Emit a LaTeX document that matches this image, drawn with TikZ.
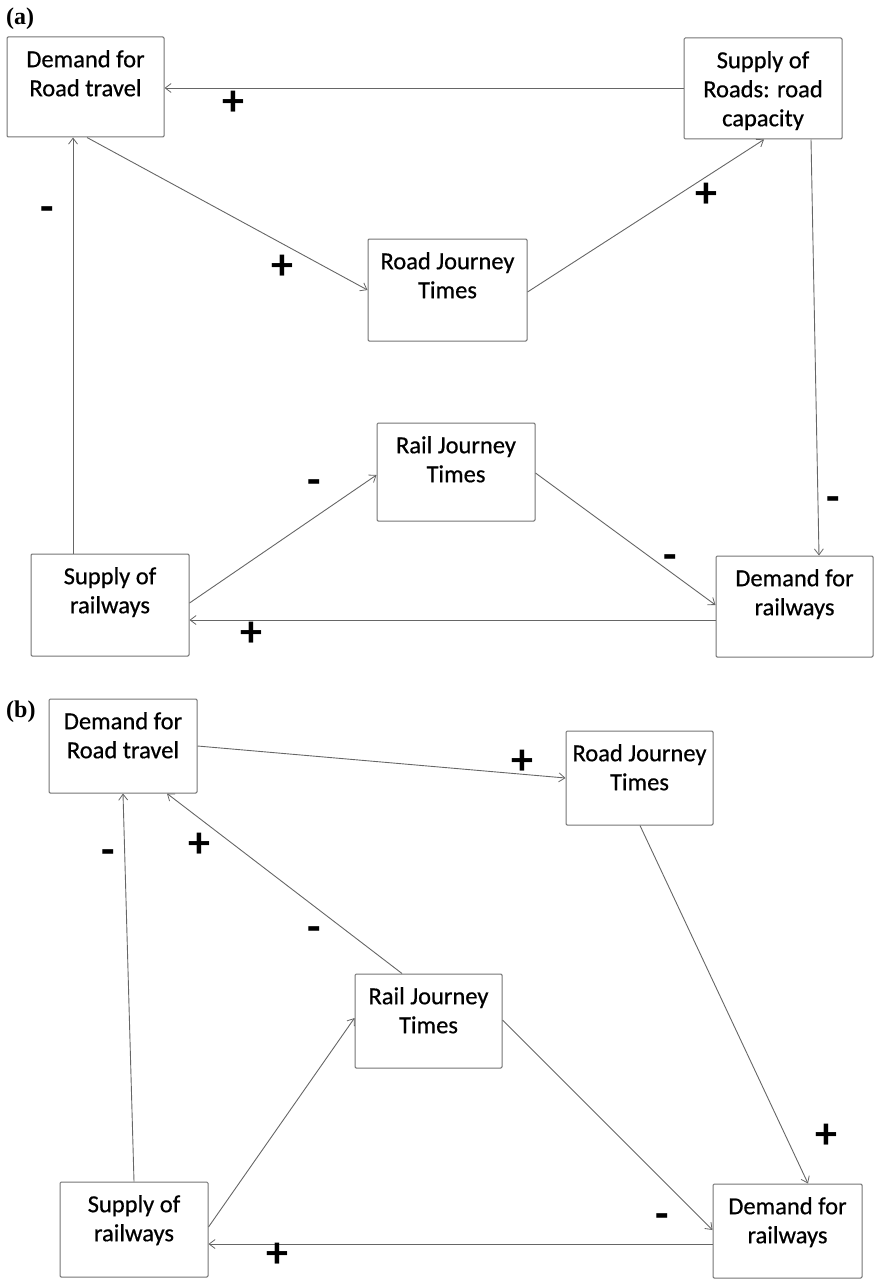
\documentclass[tikz,border=0pt]{standalone}
\usepackage{fontspec}
\setmainfont{Carlito}
\newfontfamily\boxfont{Carlito}[FakeBold=0.6]
\newfontfamily\panelfont{Liberation Serif}
\usetikzlibrary{arrows.meta}

\tikzset{
  boxst/.style={draw=black!55, line width=1pt, rounded corners=1.2pt, inner sep=0pt},
  txt/.style={anchor=north, inner sep=0pt, align=center, font=\boxfont\fontsize{24.5}{29}\selectfont},
  link/.style={draw=black!60, line width=0.9pt, -{Straight Barb[length=6pt,width=9pt,line width=0.8pt]}},
  sign/.style={inner sep=0pt, font=\fontsize{44}{44}\selectfont\bfseries},
  panel/.style={anchor=base west, inner sep=0pt, font=\panelfont\bfseries\fontsize{24}{24}\selectfont},
}

% box: name, left, top, right, bottom, text
\newcommand\cldbox[6]{%
  \node[boxst, minimum width={(#4-#2)*1pt}, minimum height={(#5-#3)*1pt}]
    (#1) at ({(#2+#4)/2},{(#3+#5)/2}) {};
  \node[txt] (#1-t) at ([yshift=-13.5pt]#1.north) {#6};
}

\begin{document}
\begin{tikzpicture}[x=1pt,y=-1pt]
\useasboundingbox (0,0) rectangle (874,1279);

% ---------------- panel (a) ----------------
\node[panel] (pa) at (6,25) {(a)};
\cldbox{aDR}{7}{37}{164}{137}{Demand for\\Road travel}
\cldbox{aSR}{684}{38}{842}{139}{Supply of\\Roads: road\\capacity}
\cldbox{aRJ}{368}{239}{527}{341}{Road Journey\\Times}
\cldbox{aLJ}{377}{423}{535}{521}{Rail Journey\\Times}
\cldbox{aSW}{31}{554}{189}{656}{Supply of\\railways}
\cldbox{aDW}{716}{556}{873}{657}{Demand for\\railways}

\draw[link] (aSR.west |- 0,88) -- (aDR.east |- 0,88);
\draw[link] (aDR.south -| 87,0) -- (aRJ.west |- 0,290);
\draw[link] (aRJ.east |- 0,292) -- (aSR.south -| 764,0);
\draw[link] (aSR.south -| 811,0) -- (aDW.north -| 819,0);
\draw[link] (aLJ.east |- 0,473) -- (aDW.west |- 0,605);
\draw[link] (aSW.east |- 0,603) -- (aLJ.west |- 0,475);
\draw[link] (aDW.west |- 0,620) -- (aSW.east |- 0,620);
\draw[link] (aSW.north -| 73,0) -- (aDR.south -| 73,0);

\node[sign] (as1) at (233,103) {+};
\node[sign] (as2) at (282,267) {+};
\node[sign] (as3) at (706,195) {+};
\node[sign] (as4) at (47,214) {-};
\node[sign] (as5) at (314,487) {-};
\node[sign] (as6) at (670,562) {-};
\node[sign] (as7) at (833,504) {-};
\node[sign] (as8) at (251,634) {+};

% ---------------- panel (b) ----------------
\node[panel] (pb) at (6,717) {(b)};
\cldbox{bDR}{49}{699}{197}{793}{Demand for\\Road travel}
\cldbox{bRJ}{566}{731}{713}{825}{Road Journey\\Times}
\cldbox{bLJ}{355}{974}{502}{1068}{Rail Journey\\Times}
\cldbox{bSW}{60}{1182}{208}{1277}{Supply of\\railways}
\cldbox{bDW}{713}{1184}{862}{1278}{Demand for\\railways}

\draw[link] (bDR.east |- 0,746) -- (bRJ.west |- 0,778);
\draw[link] (bRJ.south -| 640,0) -- (bDW.north -| 808,0);
\draw[link] (bLJ.north -| 402,0) -- (bDR.south -| 167,0);
\draw[link] (bSW.north -| 134,0) -- (bDR.south -| 123,0);
\draw[link] (bSW.east |- 0,1227) -- (bLJ.west |- 0,1018);
\draw[link] (bLJ.east |- 0,1020) -- (bDW.west |- 0,1230);
\draw[link] (bDW.west |- 0,1244) -- (bSW.east |- 0,1244);

\node[sign] (bs1) at (522,762) {+};
\node[sign] (bs2) at (199,845) {+};
\node[sign] (bs3) at (108,857) {-};
\node[sign] (bs4) at (826,1136) {+};
\node[sign] (bs5) at (314,934) {-};
\node[sign] (bs6) at (662,1221) {-};
\node[sign] (bs7) at (277,1255) {+};
\end{tikzpicture}
\end{document}
